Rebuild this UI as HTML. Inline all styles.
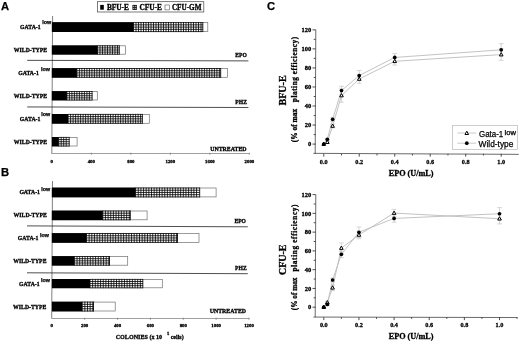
<!DOCTYPE html><html><head><meta charset="utf-8"><title>Figure</title>
<style>html,body{margin:0;padding:0;background:#fff;overflow:hidden}svg{display:block}.s{font-family:"Liberation Serif",serif;font-weight:bold;fill:#000;stroke:#000;stroke-width:0.3px}.h{font-family:"Liberation Sans",sans-serif;font-weight:bold;fill:#000;stroke:#000;stroke-width:0.25px}.n{font-family:"Liberation Sans",sans-serif;fill:#000;stroke:#000;stroke-width:0.25px}</style></head><body>
<svg width="520" height="341" viewBox="0 0 520 341">
<rect width="520" height="341" fill="#fff"/>
<text x="0.9" y="9.6" class="h" font-size="11.2" text-anchor="start" >A</text>
<rect x="97.5" y="1.7" width="106.3" height="10.3" fill="#fff" stroke="#444" stroke-width="0.7"/>
<rect x="100.2" y="4.9" width="3.6" height="4.8" fill="#000"/>
<text x="106.9" y="9.8" class="s" font-size="7.4" text-anchor="start" textLength="22.1" lengthAdjust="spacingAndGlyphs" >BFU-E</text>
<rect x="132.6" y="5" width="4" height="4.8" fill="#fff"/>
<path d="M132.90 5V9.8M134.75 5V9.8M136.30 5V9.8" stroke="#000" stroke-width="0.85" fill="none"/>
<path d="M132.9 5.42H136.6M132.9 7.40H136.6M132.9 9.38H136.6" stroke="#000" stroke-width="0.85" fill="none"/>
<text x="139.4" y="9.8" class="s" font-size="7.4" text-anchor="start" textLength="22.5" lengthAdjust="spacingAndGlyphs" >CFU-E</text>
<rect x="165" y="5" width="4.3" height="4.9" fill="#fff" stroke="#555" stroke-width="0.6"/>
<text x="171.9" y="9.8" class="s" font-size="7.4" text-anchor="start" textLength="29.6" lengthAdjust="spacingAndGlyphs" >CFU-GM</text>
<path d="M52.1 153.5H249.6" fill="none" stroke="#888" stroke-width="0.8"/>
<path d="M52.6 16L51.8 153.9" fill="none" stroke="#606060" stroke-width="0.8"/>
<text x="51.80" y="162.6" class="s" font-size="4.9" text-anchor="middle" >0</text>
<path d="M91.32 152.6v2.4" stroke="#777" stroke-width="0.6"/>
<text x="91.32" y="162.6" class="s" font-size="4.9" text-anchor="middle" textLength="7.199999999999999" lengthAdjust="spacingAndGlyphs" >400</text>
<path d="M130.84 152.6v2.4" stroke="#777" stroke-width="0.6"/>
<text x="130.84" y="162.6" class="s" font-size="4.9" text-anchor="middle" textLength="7.199999999999999" lengthAdjust="spacingAndGlyphs" >800</text>
<path d="M170.36 152.6v2.4" stroke="#777" stroke-width="0.6"/>
<text x="170.36" y="162.6" class="s" font-size="4.9" text-anchor="middle" textLength="9.6" lengthAdjust="spacingAndGlyphs" >1200</text>
<path d="M209.88 152.6v2.4" stroke="#777" stroke-width="0.6"/>
<text x="209.88" y="162.6" class="s" font-size="4.9" text-anchor="middle" textLength="9.6" lengthAdjust="spacingAndGlyphs" >1600</text>
<path d="M249.40 152.6v2.4" stroke="#777" stroke-width="0.6"/>
<text x="249.40" y="162.6" class="s" font-size="4.9" text-anchor="middle" textLength="9.6" lengthAdjust="spacingAndGlyphs" >2000</text>
<rect x="52" y="22.599999999999998" width="155.80" height="9.00" fill="#fff" stroke="#707070" stroke-width="0.7"/>
<rect x="133.5" y="22.2" width="69.60" height="9.80" fill="#fff"/>
<path d="M133.50 22.2V32.0M136.00 22.2V32.0M138.50 22.2V32.0M141.00 22.2V32.0M143.50 22.2V32.0M146.00 22.2V32.0M148.50 22.2V32.0M151.00 22.2V32.0M153.50 22.2V32.0M156.00 22.2V32.0M158.50 22.2V32.0M161.00 22.2V32.0M163.50 22.2V32.0M166.00 22.2V32.0M168.50 22.2V32.0M171.00 22.2V32.0M173.50 22.2V32.0M176.00 22.2V32.0M178.50 22.2V32.0M181.00 22.2V32.0M183.50 22.2V32.0M186.00 22.2V32.0M188.50 22.2V32.0M191.00 22.2V32.0M193.50 22.2V32.0M196.00 22.2V32.0M198.50 22.2V32.0M201.00 22.2V32.0M202.80 22.2V32.0" stroke="#000" stroke-width="0.8" fill="none"/>
<path d="M133.5 22.60H203.1M133.5 24.85H203.1M133.5 27.10H203.1M133.5 29.35H203.1M133.5 31.60H203.1" stroke="#000" stroke-width="0.8" fill="none"/>
<rect x="52" y="22.2" width="81.50" height="9.80" fill="#000"/>
<rect x="52" y="45.8" width="73.40" height="8.40" fill="#fff" stroke="#707070" stroke-width="0.7"/>
<rect x="97.5" y="45.4" width="22.10" height="9.20" fill="#fff"/>
<path d="M97.50 45.4V54.6M100.00 45.4V54.6M102.50 45.4V54.6M105.00 45.4V54.6M107.50 45.4V54.6M110.00 45.4V54.6M112.50 45.4V54.6M115.00 45.4V54.6M117.50 45.4V54.6M119.30 45.4V54.6" stroke="#000" stroke-width="0.8" fill="none"/>
<path d="M97.5 45.80H119.6M97.5 47.90H119.6M97.5 50.00H119.6M97.5 52.10H119.6M97.5 54.20H119.6" stroke="#000" stroke-width="0.8" fill="none"/>
<rect x="52" y="45.4" width="45.50" height="9.20" fill="#000"/>
<rect x="52" y="68.5" width="175.40" height="8.80" fill="#fff" stroke="#707070" stroke-width="0.7"/>
<rect x="76.9" y="68.1" width="144.10" height="9.60" fill="#fff"/>
<path d="M76.90 68.1V77.7M79.40 68.1V77.7M81.90 68.1V77.7M84.40 68.1V77.7M86.90 68.1V77.7M89.40 68.1V77.7M91.90 68.1V77.7M94.40 68.1V77.7M96.90 68.1V77.7M99.40 68.1V77.7M101.90 68.1V77.7M104.40 68.1V77.7M106.90 68.1V77.7M109.40 68.1V77.7M111.90 68.1V77.7M114.40 68.1V77.7M116.90 68.1V77.7M119.40 68.1V77.7M121.90 68.1V77.7M124.40 68.1V77.7M126.90 68.1V77.7M129.40 68.1V77.7M131.90 68.1V77.7M134.40 68.1V77.7M136.90 68.1V77.7M139.40 68.1V77.7M141.90 68.1V77.7M144.40 68.1V77.7M146.90 68.1V77.7M149.40 68.1V77.7M151.90 68.1V77.7M154.40 68.1V77.7M156.90 68.1V77.7M159.40 68.1V77.7M161.90 68.1V77.7M164.40 68.1V77.7M166.90 68.1V77.7M169.40 68.1V77.7M171.90 68.1V77.7M174.40 68.1V77.7M176.90 68.1V77.7M179.40 68.1V77.7M181.90 68.1V77.7M184.40 68.1V77.7M186.90 68.1V77.7M189.40 68.1V77.7M191.90 68.1V77.7M194.40 68.1V77.7M196.90 68.1V77.7M199.40 68.1V77.7M201.90 68.1V77.7M204.40 68.1V77.7M206.90 68.1V77.7M209.40 68.1V77.7M211.90 68.1V77.7M214.40 68.1V77.7M216.90 68.1V77.7M219.40 68.1V77.7M220.70 68.1V77.7" stroke="#000" stroke-width="0.8" fill="none"/>
<path d="M76.9 68.50H221M76.9 70.70H221M76.9 72.90H221M76.9 75.10H221M76.9 77.30H221" stroke="#000" stroke-width="0.8" fill="none"/>
<rect x="52" y="68.1" width="24.90" height="9.60" fill="#000"/>
<rect x="52" y="91.5" width="45.30" height="8.50" fill="#fff" stroke="#707070" stroke-width="0.7"/>
<rect x="66.9" y="91.1" width="25.50" height="9.30" fill="#fff"/>
<path d="M66.90 91.1V100.4M69.40 91.1V100.4M71.90 91.1V100.4M74.40 91.1V100.4M76.90 91.1V100.4M79.40 91.1V100.4M81.90 91.1V100.4M84.40 91.1V100.4M86.90 91.1V100.4M89.40 91.1V100.4M92.10 91.1V100.4" stroke="#000" stroke-width="0.8" fill="none"/>
<path d="M66.9 91.50H92.4M66.9 93.62H92.4M66.9 95.75H92.4M66.9 97.88H92.4M66.9 100.00H92.4" stroke="#000" stroke-width="0.8" fill="none"/>
<rect x="52" y="91.1" width="14.90" height="9.30" fill="#000"/>
<rect x="52" y="114.4" width="97.30" height="8.90" fill="#fff" stroke="#707070" stroke-width="0.7"/>
<rect x="68.1" y="114.0" width="74.60" height="9.70" fill="#fff"/>
<path d="M68.10 114.0V123.7M70.60 114.0V123.7M73.10 114.0V123.7M75.60 114.0V123.7M78.10 114.0V123.7M80.60 114.0V123.7M83.10 114.0V123.7M85.60 114.0V123.7M88.10 114.0V123.7M90.60 114.0V123.7M93.10 114.0V123.7M95.60 114.0V123.7M98.10 114.0V123.7M100.60 114.0V123.7M103.10 114.0V123.7M105.60 114.0V123.7M108.10 114.0V123.7M110.60 114.0V123.7M113.10 114.0V123.7M115.60 114.0V123.7M118.10 114.0V123.7M120.60 114.0V123.7M123.10 114.0V123.7M125.60 114.0V123.7M128.10 114.0V123.7M130.60 114.0V123.7M133.10 114.0V123.7M135.60 114.0V123.7M138.10 114.0V123.7M140.60 114.0V123.7M142.40 114.0V123.7" stroke="#000" stroke-width="0.8" fill="none"/>
<path d="M68.1 114.40H142.7M68.1 116.62H142.7M68.1 118.85H142.7M68.1 121.08H142.7M68.1 123.30H142.7" stroke="#000" stroke-width="0.8" fill="none"/>
<rect x="52" y="114.0" width="16.10" height="9.70" fill="#000"/>
<rect x="52" y="137.4" width="25.10" height="8.60" fill="#fff" stroke="#707070" stroke-width="0.7"/>
<rect x="58.7" y="137" width="10.80" height="9.40" fill="#fff"/>
<path d="M58.70 137V146.4M61.20 137V146.4M63.70 137V146.4M66.20 137V146.4M69.20 137V146.4" stroke="#000" stroke-width="0.8" fill="none"/>
<path d="M58.7 137.40H69.5M58.7 139.55H69.5M58.7 141.70H69.5M58.7 143.85H69.5M58.7 146.00H69.5" stroke="#000" stroke-width="0.8" fill="none"/>
<rect x="52" y="137" width="6.70" height="9.40" fill="#000"/>
<path d="M27.2 60.35L248.4 60.90" stroke="#222" stroke-width="0.8"/>
<path d="M27.2 106.95L248.4 107.50" stroke="#222" stroke-width="0.8"/>
<text x="20" y="29" class="s" font-size="5.9" text-anchor="start" textLength="20.6" lengthAdjust="spacingAndGlyphs" >GATA-1</text>
<text x="42.2" y="24.4" class="h" font-size="5.2" text-anchor="start" textLength="8.9" lengthAdjust="spacingAndGlyphs" >low</text>
<text x="13.8" y="52" class="s" font-size="5.9" text-anchor="start" textLength="33.3" lengthAdjust="spacingAndGlyphs" >WILD-TYPE</text>
<text x="18.2" y="75" class="s" font-size="5.9" text-anchor="start" textLength="20.6" lengthAdjust="spacingAndGlyphs" >GATA-1</text>
<text x="41" y="71" class="h" font-size="5.2" text-anchor="start" textLength="8.9" lengthAdjust="spacingAndGlyphs" >low</text>
<text x="13.8" y="97.9" class="s" font-size="5.9" text-anchor="start" textLength="33.3" lengthAdjust="spacingAndGlyphs" >WILD-TYPE</text>
<text x="19.8" y="120.6" class="s" font-size="5.9" text-anchor="start" textLength="20.6" lengthAdjust="spacingAndGlyphs" >GATA-1</text>
<text x="41.3" y="116" class="h" font-size="5.2" text-anchor="start" textLength="8.9" lengthAdjust="spacingAndGlyphs" >low</text>
<text x="13.8" y="143.6" class="s" font-size="5.9" text-anchor="start" textLength="33.3" lengthAdjust="spacingAndGlyphs" >WILD-TYPE</text>
<text x="246.9" y="57.2" class="s" font-size="5.9" text-anchor="end" textLength="11.6" lengthAdjust="spacingAndGlyphs" >EPO</text>
<text x="246.9" y="104" class="s" font-size="5.9" text-anchor="end" textLength="11.6" lengthAdjust="spacingAndGlyphs" >PHZ</text>
<text x="246.5" y="150.8" class="s" font-size="5.9" text-anchor="end" textLength="36.2" lengthAdjust="spacingAndGlyphs" >UNTREATED</text>
<text x="1.0" y="175.8" class="h" font-size="11.2" text-anchor="start" >B</text>
<path d="M52.0 318.5H249.4" fill="none" stroke="#888" stroke-width="0.8"/>
<path d="M52.5 181L51.7 318.7" fill="none" stroke="#606060" stroke-width="0.8"/>
<text x="51.80" y="327.3" class="s" font-size="4.9" text-anchor="middle" >0</text>
<path d="M84.67 317.6v2.4" stroke="#777" stroke-width="0.6"/>
<text x="84.67" y="327.3" class="s" font-size="4.9" text-anchor="middle" textLength="7.199999999999999" lengthAdjust="spacingAndGlyphs" >200</text>
<path d="M117.53 317.6v2.4" stroke="#777" stroke-width="0.6"/>
<text x="117.53" y="327.3" class="s" font-size="4.9" text-anchor="middle" textLength="7.199999999999999" lengthAdjust="spacingAndGlyphs" >400</text>
<path d="M150.40 317.6v2.4" stroke="#777" stroke-width="0.6"/>
<text x="150.40" y="327.3" class="s" font-size="4.9" text-anchor="middle" textLength="7.199999999999999" lengthAdjust="spacingAndGlyphs" >600</text>
<path d="M183.27 317.6v2.4" stroke="#777" stroke-width="0.6"/>
<text x="183.27" y="327.3" class="s" font-size="4.9" text-anchor="middle" textLength="7.199999999999999" lengthAdjust="spacingAndGlyphs" >800</text>
<path d="M216.13 317.6v2.4" stroke="#777" stroke-width="0.6"/>
<text x="216.13" y="327.3" class="s" font-size="4.9" text-anchor="middle" textLength="9.6" lengthAdjust="spacingAndGlyphs" >1000</text>
<path d="M249.00 317.6v2.4" stroke="#777" stroke-width="0.6"/>
<text x="249.00" y="327.3" class="s" font-size="4.9" text-anchor="middle" textLength="9.6" lengthAdjust="spacingAndGlyphs" >1200</text>
<rect x="52" y="188.0" width="164.10" height="8.90" fill="#fff" stroke="#707070" stroke-width="0.7"/>
<rect x="135.6" y="187.6" width="64.40" height="9.70" fill="#fff"/>
<path d="M135.60 187.6V197.3M138.25 187.6V197.3M140.90 187.6V197.3M143.55 187.6V197.3M146.20 187.6V197.3M148.85 187.6V197.3M151.50 187.6V197.3M154.15 187.6V197.3M156.80 187.6V197.3M159.45 187.6V197.3M162.10 187.6V197.3M164.75 187.6V197.3M167.40 187.6V197.3M170.05 187.6V197.3M172.70 187.6V197.3M175.35 187.6V197.3M178.00 187.6V197.3M180.65 187.6V197.3M183.30 187.6V197.3M185.95 187.6V197.3M188.60 187.6V197.3M191.25 187.6V197.3M193.90 187.6V197.3M196.55 187.6V197.3M199.70 187.6V197.3" stroke="#000" stroke-width="0.8" fill="none"/>
<path d="M135.6 188.00H200M135.6 190.22H200M135.6 192.45H200M135.6 194.68H200M135.6 196.90H200" stroke="#000" stroke-width="0.8" fill="none"/>
<rect x="52" y="187.6" width="83.60" height="9.70" fill="#000"/>
<rect x="52" y="211.0" width="95.10" height="8.80" fill="#fff" stroke="#707070" stroke-width="0.7"/>
<rect x="102.8" y="210.6" width="27.80" height="9.60" fill="#fff"/>
<path d="M102.80 210.6V220.2M105.45 210.6V220.2M108.10 210.6V220.2M110.75 210.6V220.2M113.40 210.6V220.2M116.05 210.6V220.2M118.70 210.6V220.2M121.35 210.6V220.2M124.00 210.6V220.2M126.65 210.6V220.2M129.30 210.6V220.2M130.30 210.6V220.2" stroke="#000" stroke-width="0.8" fill="none"/>
<path d="M102.8 211.00H130.6M102.8 213.20H130.6M102.8 215.40H130.6M102.8 217.60H130.6M102.8 219.80H130.6" stroke="#000" stroke-width="0.8" fill="none"/>
<rect x="52" y="210.6" width="50.80" height="9.60" fill="#000"/>
<rect x="52" y="233.5" width="147.00" height="8.90" fill="#fff" stroke="#707070" stroke-width="0.7"/>
<rect x="86.5" y="233.1" width="91.30" height="9.70" fill="#fff"/>
<path d="M86.50 233.1V242.8M89.15 233.1V242.8M91.80 233.1V242.8M94.45 233.1V242.8M97.10 233.1V242.8M99.75 233.1V242.8M102.40 233.1V242.8M105.05 233.1V242.8M107.70 233.1V242.8M110.35 233.1V242.8M113.00 233.1V242.8M115.65 233.1V242.8M118.30 233.1V242.8M120.95 233.1V242.8M123.60 233.1V242.8M126.25 233.1V242.8M128.90 233.1V242.8M131.55 233.1V242.8M134.20 233.1V242.8M136.85 233.1V242.8M139.50 233.1V242.8M142.15 233.1V242.8M144.80 233.1V242.8M147.45 233.1V242.8M150.10 233.1V242.8M152.75 233.1V242.8M155.40 233.1V242.8M158.05 233.1V242.8M160.70 233.1V242.8M163.35 233.1V242.8M166.00 233.1V242.8M168.65 233.1V242.8M171.30 233.1V242.8M173.95 233.1V242.8M176.60 233.1V242.8M177.50 233.1V242.8" stroke="#000" stroke-width="0.8" fill="none"/>
<path d="M86.5 233.50H177.8M86.5 235.72H177.8M86.5 237.95H177.8M86.5 240.18H177.8M86.5 242.40H177.8" stroke="#000" stroke-width="0.8" fill="none"/>
<rect x="52" y="233.1" width="34.50" height="9.70" fill="#000"/>
<rect x="52" y="256.5" width="75.70" height="8.70" fill="#fff" stroke="#707070" stroke-width="0.7"/>
<rect x="74.4" y="256.1" width="35.40" height="9.50" fill="#fff"/>
<path d="M74.40 256.1V265.6M77.05 256.1V265.6M79.70 256.1V265.6M82.35 256.1V265.6M85.00 256.1V265.6M87.65 256.1V265.6M90.30 256.1V265.6M92.95 256.1V265.6M95.60 256.1V265.6M98.25 256.1V265.6M100.90 256.1V265.6M103.55 256.1V265.6M106.20 256.1V265.6M108.85 256.1V265.6M109.50 256.1V265.6" stroke="#000" stroke-width="0.8" fill="none"/>
<path d="M74.4 256.50H109.8M74.4 258.68H109.8M74.4 260.85H109.8M74.4 263.02H109.8M74.4 265.20H109.8" stroke="#000" stroke-width="0.8" fill="none"/>
<rect x="52" y="256.1" width="22.40" height="9.50" fill="#000"/>
<rect x="52" y="279.4" width="110.30" height="8.40" fill="#fff" stroke="#707070" stroke-width="0.7"/>
<rect x="90" y="279" width="53.10" height="9.20" fill="#fff"/>
<path d="M90.00 279V288.2M92.65 279V288.2M95.30 279V288.2M97.95 279V288.2M100.60 279V288.2M103.25 279V288.2M105.90 279V288.2M108.55 279V288.2M111.20 279V288.2M113.85 279V288.2M116.50 279V288.2M119.15 279V288.2M121.80 279V288.2M124.45 279V288.2M127.10 279V288.2M129.75 279V288.2M132.40 279V288.2M135.05 279V288.2M137.70 279V288.2M140.35 279V288.2M142.80 279V288.2" stroke="#000" stroke-width="0.8" fill="none"/>
<path d="M90 279.40H143.1M90 281.50H143.1M90 283.60H143.1M90 285.70H143.1M90 287.80H143.1" stroke="#000" stroke-width="0.8" fill="none"/>
<rect x="52" y="279" width="38.00" height="9.20" fill="#000"/>
<rect x="52" y="302.09999999999997" width="63.20" height="8.90" fill="#fff" stroke="#707070" stroke-width="0.7"/>
<rect x="82.2" y="301.7" width="11.60" height="9.70" fill="#fff"/>
<path d="M82.20 301.7V311.4M84.85 301.7V311.4M87.50 301.7V311.4M90.15 301.7V311.4M92.80 301.7V311.4M93.50 301.7V311.4" stroke="#000" stroke-width="0.8" fill="none"/>
<path d="M82.2 302.10H93.8M82.2 304.32H93.8M82.2 306.55H93.8M82.2 308.77H93.8M82.2 311.00H93.8" stroke="#000" stroke-width="0.8" fill="none"/>
<rect x="52" y="301.7" width="30.20" height="9.70" fill="#000"/>
<path d="M27 225.90L247.8 226.80" stroke="#222" stroke-width="0.8"/>
<path d="M27 272.80L247.8 273.70" stroke="#222" stroke-width="0.8"/>
<text x="19.4" y="194.1" class="s" font-size="5.9" text-anchor="start" textLength="20.6" lengthAdjust="spacingAndGlyphs" >GATA-1</text>
<text x="41.3" y="190.7" class="h" font-size="5.2" text-anchor="start" textLength="8.9" lengthAdjust="spacingAndGlyphs" >low</text>
<text x="13.6" y="216.6" class="s" font-size="5.9" text-anchor="start" textLength="33.3" lengthAdjust="spacingAndGlyphs" >WILD-TYPE</text>
<text x="17.8" y="239.5" class="s" font-size="5.9" text-anchor="start" textLength="20.6" lengthAdjust="spacingAndGlyphs" >GATA-1</text>
<text x="40" y="236.5" class="h" font-size="5.2" text-anchor="start" textLength="8.9" lengthAdjust="spacingAndGlyphs" >low</text>
<text x="13.2" y="262.8" class="s" font-size="5.9" text-anchor="start" textLength="33.3" lengthAdjust="spacingAndGlyphs" >WILD-TYPE</text>
<text x="19" y="285.6" class="s" font-size="5.9" text-anchor="start" textLength="20.6" lengthAdjust="spacingAndGlyphs" >GATA-1</text>
<text x="41" y="282.2" class="h" font-size="5.2" text-anchor="start" textLength="8.9" lengthAdjust="spacingAndGlyphs" >low</text>
<text x="13.1" y="308.8" class="s" font-size="5.9" text-anchor="start" textLength="33.3" lengthAdjust="spacingAndGlyphs" >WILD-TYPE</text>
<text x="246" y="223" class="s" font-size="5.9" text-anchor="end" textLength="11.6" lengthAdjust="spacingAndGlyphs" >EPO</text>
<text x="246.7" y="270" class="s" font-size="5.9" text-anchor="end" textLength="11.6" lengthAdjust="spacingAndGlyphs" >PHZ</text>
<text x="246" y="312.5" class="s" font-size="5.9" text-anchor="end" textLength="36.2" lengthAdjust="spacingAndGlyphs" >UNTREATED</text>
<text x="115.7" y="338.8" class="s" font-size="6.3" text-anchor="start" textLength="46.4" lengthAdjust="spacingAndGlyphs" >COLONIES (x 10</text>
<text x="167.2" y="335" class="s" font-size="3.8" text-anchor="start" >5</text>
<text x="170.7" y="338.8" class="s" font-size="6.3" text-anchor="start" textLength="13" lengthAdjust="spacingAndGlyphs" >cells)</text>
<text x="267.0" y="9.6" class="h" font-size="11.2" text-anchor="start" >C</text>
<path d="M315.8 29.55L315.2 153.85M313.4 153.35L518.8 154.35" fill="none" stroke="#444" stroke-width="0.8"/>
<path d="M315.5 144.10h-3.0" stroke="#222" stroke-width="0.8"/>
<text x="311.3" y="146.30" class="s" font-size="6.6" text-anchor="end" textLength="3.25" lengthAdjust="spacingAndGlyphs" >0</text>
<path d="M315.5 134.58h-1.8" stroke="#222" stroke-width="0.8"/>
<path d="M315.5 125.06h-3.0" stroke="#222" stroke-width="0.8"/>
<text x="311.3" y="127.26" class="s" font-size="6.6" text-anchor="end" textLength="6.5" lengthAdjust="spacingAndGlyphs" >20</text>
<path d="M315.5 115.54h-1.8" stroke="#222" stroke-width="0.8"/>
<path d="M315.5 106.02h-3.0" stroke="#222" stroke-width="0.8"/>
<text x="311.3" y="108.22" class="s" font-size="6.6" text-anchor="end" textLength="6.5" lengthAdjust="spacingAndGlyphs" >40</text>
<path d="M315.5 96.50h-1.8" stroke="#222" stroke-width="0.8"/>
<path d="M315.5 86.97h-3.0" stroke="#222" stroke-width="0.8"/>
<text x="311.3" y="89.17" class="s" font-size="6.6" text-anchor="end" textLength="6.5" lengthAdjust="spacingAndGlyphs" >60</text>
<path d="M315.5 77.45h-1.8" stroke="#222" stroke-width="0.8"/>
<path d="M315.5 67.93h-3.0" stroke="#222" stroke-width="0.8"/>
<text x="311.3" y="70.13" class="s" font-size="6.6" text-anchor="end" textLength="6.5" lengthAdjust="spacingAndGlyphs" >80</text>
<path d="M315.5 58.41h-1.8" stroke="#222" stroke-width="0.8"/>
<path d="M315.5 48.89h-3.0" stroke="#222" stroke-width="0.8"/>
<text x="311.3" y="51.09" class="s" font-size="6.6" text-anchor="end" textLength="9.75" lengthAdjust="spacingAndGlyphs" >100</text>
<path d="M315.5 39.37h-1.8" stroke="#222" stroke-width="0.8"/>
<path d="M315.5 29.85h-3.0" stroke="#222" stroke-width="0.8"/>
<text x="311.3" y="32.05" class="s" font-size="6.6" text-anchor="end" textLength="9.75" lengthAdjust="spacingAndGlyphs" >120</text>
<path d="M323.75 153.85v2.8" stroke="#222" stroke-width="0.8"/>
<text x="323.75" y="163.70" class="s" font-size="7.0" text-anchor="middle" textLength="7.8" lengthAdjust="spacingAndGlyphs" >0.0</text>
<path d="M341.50 153.85v1.6" stroke="#222" stroke-width="0.8"/>
<path d="M359.24 153.85v2.8" stroke="#222" stroke-width="0.8"/>
<text x="359.24" y="163.70" class="s" font-size="7.0" text-anchor="middle" textLength="7.8" lengthAdjust="spacingAndGlyphs" >0.2</text>
<path d="M376.99 153.85v1.6" stroke="#222" stroke-width="0.8"/>
<path d="M394.73 153.85v2.8" stroke="#222" stroke-width="0.8"/>
<text x="394.73" y="163.70" class="s" font-size="7.0" text-anchor="middle" textLength="7.8" lengthAdjust="spacingAndGlyphs" >0.4</text>
<path d="M412.48 153.85v1.6" stroke="#222" stroke-width="0.8"/>
<path d="M430.22 153.85v2.8" stroke="#222" stroke-width="0.8"/>
<text x="430.22" y="163.70" class="s" font-size="7.0" text-anchor="middle" textLength="7.8" lengthAdjust="spacingAndGlyphs" >0.6</text>
<path d="M447.96 153.85v1.6" stroke="#222" stroke-width="0.8"/>
<path d="M465.71 153.85v2.8" stroke="#222" stroke-width="0.8"/>
<text x="465.71" y="163.70" class="s" font-size="7.0" text-anchor="middle" textLength="7.8" lengthAdjust="spacingAndGlyphs" >0.8</text>
<path d="M483.45 153.85v1.6" stroke="#222" stroke-width="0.8"/>
<path d="M501.20 153.85v2.8" stroke="#222" stroke-width="0.8"/>
<text x="501.20" y="163.70" class="s" font-size="7.0" text-anchor="middle" textLength="7.8" lengthAdjust="spacingAndGlyphs" >1.0</text>
<polyline points="323.75,144.10 327.30,142.20 332.62,126.01 341.50,95.54 359.24,78.98 394.73,61.27 501.20,54.60" fill="none" stroke="#bcbcbc" stroke-width="0.9"/>
<polyline points="323.75,144.10 327.30,139.34 332.62,119.35 341.50,90.59 359.24,75.55 394.73,57.46 501.20,49.84" fill="none" stroke="#bcbcbc" stroke-width="0.9"/>
<path d="M327.30 141.24V143.15M324.90 141.24h4.8M324.90 143.15h4.8" stroke="#c4c4c4" stroke-width="0.7" fill="none"/>
<path d="M332.62 124.11V127.91M330.22 124.11h4.8M330.22 127.91h4.8" stroke="#c4c4c4" stroke-width="0.7" fill="none"/>
<path d="M341.50 88.88V102.21M339.10 88.88h4.8M339.10 102.21h4.8" stroke="#c4c4c4" stroke-width="0.7" fill="none"/>
<path d="M359.24 74.69V83.26M356.84 74.69h4.8M356.84 83.26h4.8" stroke="#c4c4c4" stroke-width="0.7" fill="none"/>
<path d="M394.73 57.46V65.08M392.33 57.46h4.8M392.33 65.08h4.8" stroke="#c4c4c4" stroke-width="0.7" fill="none"/>
<path d="M501.20 48.89V60.32M498.80 48.89h4.8M498.80 60.32h4.8" stroke="#c4c4c4" stroke-width="0.7" fill="none"/>
<path d="M327.30 138.39V140.29M324.90 138.39h4.8M324.90 140.29h4.8" stroke="#c4c4c4" stroke-width="0.7" fill="none"/>
<path d="M332.62 117.44V121.25M330.22 117.44h4.8M330.22 121.25h4.8" stroke="#c4c4c4" stroke-width="0.7" fill="none"/>
<path d="M341.50 86.31V94.88M339.10 86.31h4.8M339.10 94.88h4.8" stroke="#c4c4c4" stroke-width="0.7" fill="none"/>
<path d="M359.24 70.50V80.60M356.84 70.50h4.8M356.84 80.60h4.8" stroke="#c4c4c4" stroke-width="0.7" fill="none"/>
<path d="M394.73 53.65V61.27M392.33 53.65h4.8M392.33 61.27h4.8" stroke="#c4c4c4" stroke-width="0.7" fill="none"/>
<path d="M501.20 43.66V56.03M498.80 43.66h4.8M498.80 56.03h4.8" stroke="#c4c4c4" stroke-width="0.7" fill="none"/>
<path d="M323.75 142.10L325.55 145.40H321.95Z" fill="#fff" stroke="#000" stroke-width="1.0"/>
<path d="M327.30 140.20L329.10 143.50H325.50Z" fill="#fff" stroke="#000" stroke-width="1.0"/>
<path d="M332.62 124.01L334.42 127.31H330.82Z" fill="#fff" stroke="#000" stroke-width="1.0"/>
<path d="M341.50 93.54L343.30 96.84H339.69Z" fill="#fff" stroke="#000" stroke-width="1.0"/>
<path d="M359.24 76.98L361.04 80.28H357.44Z" fill="#fff" stroke="#000" stroke-width="1.0"/>
<path d="M394.73 59.27L396.53 62.57H392.93Z" fill="#fff" stroke="#000" stroke-width="1.0"/>
<path d="M501.20 52.60L503.00 55.90H499.40Z" fill="#fff" stroke="#000" stroke-width="1.0"/>
<circle cx="323.75" cy="144.10" r="1.85" fill="#000"/>
<circle cx="327.30" cy="139.34" r="1.85" fill="#000"/>
<circle cx="332.62" cy="119.35" r="1.85" fill="#000"/>
<circle cx="341.50" cy="90.59" r="1.85" fill="#000"/>
<circle cx="359.24" cy="75.55" r="1.85" fill="#000"/>
<circle cx="394.73" cy="57.46" r="1.85" fill="#000"/>
<circle cx="501.20" cy="49.84" r="1.85" fill="#000"/>
<text class="s" font-size="10.3" textLength="30.3" lengthAdjust="spacingAndGlyphs" transform="translate(286.3 105.6) rotate(-90)">BFU-E</text>
<text class="s" font-size="7.3" textLength="33.4" lengthAdjust="spacingAndGlyphs" transform="translate(296.7 142.2) rotate(-90)">(% of max</text>
<text class="s" font-size="7.3" textLength="65.4" lengthAdjust="spacing" transform="translate(296.7 102.2) rotate(-90)">plating efficiency)</text>
<text x="411.1" y="176.00" class="s" font-size="8.2" text-anchor="middle" textLength="44.8" lengthAdjust="spacingAndGlyphs" >EPO (U/mL)</text>
<path d="M315.8 194.30L315.2 317.3M313.4 317.05L517.4 317.55" fill="none" stroke="#444" stroke-width="0.8"/>
<path d="M315.5 307.20h-3.0" stroke="#222" stroke-width="0.8"/>
<text x="311.3" y="309.40" class="s" font-size="6.6" text-anchor="end" textLength="3.25" lengthAdjust="spacingAndGlyphs" >0</text>
<path d="M315.5 297.82h-1.8" stroke="#222" stroke-width="0.8"/>
<path d="M315.5 288.43h-3.0" stroke="#222" stroke-width="0.8"/>
<text x="311.3" y="290.63" class="s" font-size="6.6" text-anchor="end" textLength="6.5" lengthAdjust="spacingAndGlyphs" >20</text>
<path d="M315.5 279.05h-1.8" stroke="#222" stroke-width="0.8"/>
<path d="M315.5 269.67h-3.0" stroke="#222" stroke-width="0.8"/>
<text x="311.3" y="271.87" class="s" font-size="6.6" text-anchor="end" textLength="6.5" lengthAdjust="spacingAndGlyphs" >40</text>
<path d="M315.5 260.28h-1.8" stroke="#222" stroke-width="0.8"/>
<path d="M315.5 250.90h-3.0" stroke="#222" stroke-width="0.8"/>
<text x="311.3" y="253.10" class="s" font-size="6.6" text-anchor="end" textLength="6.5" lengthAdjust="spacingAndGlyphs" >60</text>
<path d="M315.5 241.52h-1.8" stroke="#222" stroke-width="0.8"/>
<path d="M315.5 232.13h-3.0" stroke="#222" stroke-width="0.8"/>
<text x="311.3" y="234.33" class="s" font-size="6.6" text-anchor="end" textLength="6.5" lengthAdjust="spacingAndGlyphs" >80</text>
<path d="M315.5 222.75h-1.8" stroke="#222" stroke-width="0.8"/>
<path d="M315.5 213.37h-3.0" stroke="#222" stroke-width="0.8"/>
<text x="311.3" y="215.57" class="s" font-size="6.6" text-anchor="end" textLength="9.75" lengthAdjust="spacingAndGlyphs" >100</text>
<path d="M315.5 203.98h-1.8" stroke="#222" stroke-width="0.8"/>
<path d="M315.5 194.60h-3.0" stroke="#222" stroke-width="0.8"/>
<text x="311.3" y="196.80" class="s" font-size="6.6" text-anchor="end" textLength="9.75" lengthAdjust="spacingAndGlyphs" >120</text>
<path d="M323.80 317.3v2.8" stroke="#222" stroke-width="0.8"/>
<text x="323.80" y="326.80" class="s" font-size="7.0" text-anchor="middle" textLength="7.8" lengthAdjust="spacingAndGlyphs" >0.0</text>
<path d="M341.37 317.3v1.6" stroke="#222" stroke-width="0.8"/>
<path d="M358.94 317.3v2.8" stroke="#222" stroke-width="0.8"/>
<text x="358.94" y="326.80" class="s" font-size="7.0" text-anchor="middle" textLength="7.8" lengthAdjust="spacingAndGlyphs" >0.2</text>
<path d="M376.51 317.3v1.6" stroke="#222" stroke-width="0.8"/>
<path d="M394.08 317.3v2.8" stroke="#222" stroke-width="0.8"/>
<text x="394.08" y="326.80" class="s" font-size="7.0" text-anchor="middle" textLength="7.8" lengthAdjust="spacingAndGlyphs" >0.4</text>
<path d="M411.65 317.3v1.6" stroke="#222" stroke-width="0.8"/>
<path d="M429.22 317.3v2.8" stroke="#222" stroke-width="0.8"/>
<text x="429.22" y="326.80" class="s" font-size="7.0" text-anchor="middle" textLength="7.8" lengthAdjust="spacingAndGlyphs" >0.6</text>
<path d="M446.79 317.3v1.6" stroke="#222" stroke-width="0.8"/>
<path d="M464.36 317.3v2.8" stroke="#222" stroke-width="0.8"/>
<text x="464.36" y="326.80" class="s" font-size="7.0" text-anchor="middle" textLength="7.8" lengthAdjust="spacingAndGlyphs" >0.8</text>
<path d="M481.93 317.3v1.6" stroke="#222" stroke-width="0.8"/>
<path d="M499.50 317.3v2.8" stroke="#222" stroke-width="0.8"/>
<text x="499.50" y="326.80" class="s" font-size="7.0" text-anchor="middle" textLength="7.8" lengthAdjust="spacingAndGlyphs" >1.0</text>
<path d="M517.07 317.3v1.6" stroke="#222" stroke-width="0.8"/>
<polyline points="323.80,307.20 327.31,302.51 332.59,287.78 341.37,248.08 358.94,234.95 394.08,213.09 499.50,218.72" fill="none" stroke="#bcbcbc" stroke-width="0.9"/>
<polyline points="323.80,307.20 327.31,304.38 332.59,279.99 341.37,254.37 358.94,232.23 394.08,218.43 499.50,213.74" fill="none" stroke="#bcbcbc" stroke-width="0.9"/>
<path d="M327.31 301.57V303.45M324.91 301.57h4.8M324.91 303.45h4.8" stroke="#c4c4c4" stroke-width="0.7" fill="none"/>
<path d="M332.59 284.96V290.59M330.19 284.96h4.8M330.19 290.59h4.8" stroke="#c4c4c4" stroke-width="0.7" fill="none"/>
<path d="M341.37 242.92V253.25M338.97 242.92h4.8M338.97 253.25h4.8" stroke="#c4c4c4" stroke-width="0.7" fill="none"/>
<path d="M358.94 231.19V238.70M356.54 231.19h4.8M356.54 238.70h4.8" stroke="#c4c4c4" stroke-width="0.7" fill="none"/>
<path d="M394.08 209.33V216.84M391.68 209.33h4.8M391.68 216.84h4.8" stroke="#c4c4c4" stroke-width="0.7" fill="none"/>
<path d="M499.50 213.55V223.88M497.10 213.55h4.8M497.10 223.88h4.8" stroke="#c4c4c4" stroke-width="0.7" fill="none"/>
<path d="M327.31 303.45V305.32M324.91 303.45h4.8M324.91 305.32h4.8" stroke="#c4c4c4" stroke-width="0.7" fill="none"/>
<path d="M332.59 278.11V281.87M330.19 278.11h4.8M330.19 281.87h4.8" stroke="#c4c4c4" stroke-width="0.7" fill="none"/>
<path d="M341.37 251.09V257.66M338.97 251.09h4.8M338.97 257.66h4.8" stroke="#c4c4c4" stroke-width="0.7" fill="none"/>
<path d="M358.94 227.07V237.39M356.54 227.07h4.8M356.54 237.39h4.8" stroke="#c4c4c4" stroke-width="0.7" fill="none"/>
<path d="M394.08 214.68V222.19M391.68 214.68h4.8M391.68 222.19h4.8" stroke="#c4c4c4" stroke-width="0.7" fill="none"/>
<path d="M499.50 207.64V219.84M497.10 207.64h4.8M497.10 219.84h4.8" stroke="#c4c4c4" stroke-width="0.7" fill="none"/>
<path d="M323.80 305.20L325.60 308.50H322.00Z" fill="#fff" stroke="#000" stroke-width="1.0"/>
<path d="M327.31 300.51L329.11 303.81H325.51Z" fill="#fff" stroke="#000" stroke-width="1.0"/>
<path d="M332.59 285.78L334.39 289.08H330.79Z" fill="#fff" stroke="#000" stroke-width="1.0"/>
<path d="M341.37 246.08L343.17 249.38H339.57Z" fill="#fff" stroke="#000" stroke-width="1.0"/>
<path d="M358.94 232.95L360.74 236.25H357.14Z" fill="#fff" stroke="#000" stroke-width="1.0"/>
<path d="M394.08 211.09L395.88 214.39H392.28Z" fill="#fff" stroke="#000" stroke-width="1.0"/>
<path d="M499.50 216.72L501.30 220.02H497.70Z" fill="#fff" stroke="#000" stroke-width="1.0"/>
<circle cx="323.80" cy="307.20" r="1.85" fill="#000"/>
<circle cx="327.31" cy="304.38" r="1.85" fill="#000"/>
<circle cx="332.59" cy="279.99" r="1.85" fill="#000"/>
<circle cx="341.37" cy="254.37" r="1.85" fill="#000"/>
<circle cx="358.94" cy="232.23" r="1.85" fill="#000"/>
<circle cx="394.08" cy="218.43" r="1.85" fill="#000"/>
<circle cx="499.50" cy="213.74" r="1.85" fill="#000"/>
<text class="s" font-size="10.3" textLength="30.6" lengthAdjust="spacingAndGlyphs" transform="translate(286.3 275.1) rotate(-90)">CFU-E</text>
<text class="s" font-size="7.3" textLength="32.8" lengthAdjust="spacingAndGlyphs" transform="translate(296.7 310.3) rotate(-90)">(% of max</text>
<text class="s" font-size="7.3" textLength="67.0" lengthAdjust="spacing" transform="translate(296.7 271.5) rotate(-90)">plating efficiency)</text>
<text x="411.1" y="338.80" class="s" font-size="8.2" text-anchor="middle" textLength="44.8" lengthAdjust="spacingAndGlyphs" >EPO (U/mL)</text>
<rect x="452.5" y="125.5" width="65" height="24.1" fill="#fff" stroke="#b8b8b8" stroke-width="0.7"/>
<path d="M457.4 133H476.2" stroke="#bbb" stroke-width="0.8"/>
<path d="M457.4 143.2H476.2" stroke="#bbb" stroke-width="0.8"/>
<path d="M466.80 131.20L468.60 134.50H465.00Z" fill="#fff" stroke="#000" stroke-width="1.0"/>
<circle cx="466.80" cy="143.20" r="1.85" fill="#000"/>
<text x="479" y="136.8" class="n" font-size="8.9" text-anchor="start" textLength="24.3" lengthAdjust="spacingAndGlyphs" >Gata-1</text>
<text x="504.6" y="134.8" class="n" font-size="6.3" text-anchor="start" textLength="11.4" lengthAdjust="spacingAndGlyphs" >low</text>
<text x="478.6" y="146.9" class="n" font-size="8.9" text-anchor="start" textLength="34.8" lengthAdjust="spacingAndGlyphs" >Wild-type</text>
</svg></body></html>
